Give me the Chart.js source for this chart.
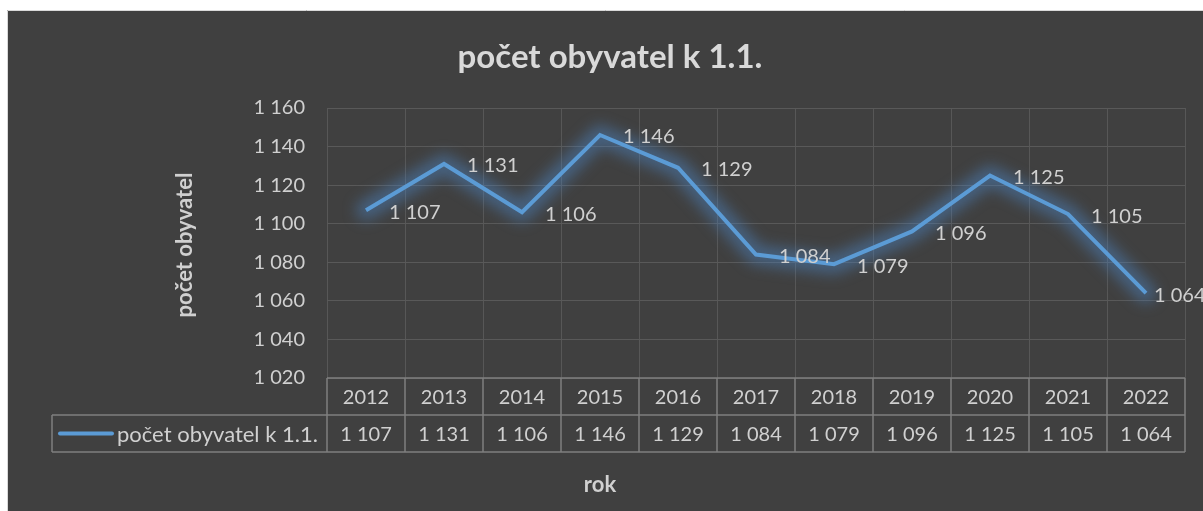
<!DOCTYPE html>
<html>
<head>
<meta charset="utf-8">
<script src="https://cdn.jsdelivr.net/npm/chart.js"></script>
<style>
  body { margin: 0; background: #ffffff; }
  #obal { width: 1203px; height: 511px; }
</style>
</head>
<body>
<div id="obal"><canvas id="graf" width="1203" height="511"></canvas></div>
<script>
const roky = ['2012', '2013', '2014', '2015', '2016', '2017', '2018', '2019', '2020', '2021', '2022'];
const obyvatele = [1107, 1131, 1106, 1146, 1129, 1084, 1079, 1096, 1125, 1105, 1064];
const yTicky = [1020, 1040, 1060, 1080, 1100, 1120, 1140, 1160];

const nazevGrafu = 'počet obyvatel k 1.1.';
const nazevRady = 'počet obyvatel k 1.1.';
const nazevOsyY = 'počet obyvatel';
const nazevOsyX = 'rok';

const barvaTextu = '#d0d0d0';
const barvaCary = '#5b9bd5';
const pismo = 'Lato, "Noto Sans", sans-serif';

// mezera jako oddelovac tisicu
const fmt = (v) => String(v).replace(/\B(?=(\d{3})+(?!\d))/g, ' ');

// pozadi a ramecek grafu
const pozadi = {
    id: 'pozadi',
    beforeDraw(chart) {
        const ctx = chart.ctx;
        ctx.save();
        ctx.fillStyle = '#ffffff';
        ctx.fillRect(0, 0, chart.width, chart.height);
        ctx.fillStyle = '#404040';
        ctx.fillRect(7, 10, chart.width, chart.height);
        ctx.strokeStyle = '#d9d9d9';
        ctx.lineWidth = 1;
        ctx.beginPath();
        ctx.moveTo(7.5, chart.height);
        ctx.lineTo(7.5, 10.5);
        ctx.lineTo(chart.width, 10.5);
        ctx.stroke();
        ctx.restore();
    }
};

// zare kolem cary - rozmazana siroka cara pod datasetem
const zare = {
    id: 'zare',
    beforeDatasetsDraw(chart) {
        const ctx = chart.ctx;
        const body = chart.getDatasetMeta(0).data;
        ctx.save();
        ctx.filter = 'blur(7px)';
        ctx.strokeStyle = 'rgba(75, 130, 190, 0.5)';
        ctx.lineWidth = 20;
        ctx.lineJoin = 'round';
        ctx.lineCap = 'round';
        ctx.beginPath();
        body.forEach((b, i) => i ? ctx.lineTo(b.x, b.y) : ctx.moveTo(b.x, b.y));
        ctx.stroke();
        ctx.restore();
    }
};

// titulky, popisky hodnot a tabulka dat
const popisky = {
    id: 'popisky',
    afterDraw(chart) {
        const ctx = chart.ctx;
        const sx = chart.scales.x;
        const sy = chart.scales.y;
        const area = chart.chartArea;
        ctx.save();

        // nadpis
        ctx.fillStyle = '#d9d9d9';
        ctx.font = 'bold 33px ' + pismo;
        ctx.textAlign = 'center';
        ctx.textBaseline = 'middle';
        ctx.fillText(nazevGrafu, 610, 57);
        ctx.fillStyle = barvaTextu;

        // nazev osy y
        ctx.save();
        ctx.translate(185, (area.top + area.bottom) / 2 + 2);
        ctx.rotate(-Math.PI / 2);
        ctx.font = 'bold 22px ' + pismo;
        ctx.fillText(nazevOsyY, 0, 0);
        ctx.restore();

        // nazev osy x
        ctx.font = 'bold 22px ' + pismo;
        ctx.fillText(nazevOsyX, 600, 485);

        // popisky hodnot vpravo od bodu (posledni je prisunuty, jako v Excelu)
        ctx.font = '20px ' + pismo;
        ctx.textAlign = 'left';
        obyvatele.forEach((v, i) => {
            const posun = i === obyvatele.length - 1 ? 8 : 23;
            ctx.fillText(fmt(v), sx.getPixelForValue(i) + posun, sy.getPixelForValue(v) + 2);
        });

        // tabulka dat
        const krok = sx.getPixelForValue(1) - sx.getPixelForValue(0);
        const levo = sx.getPixelForValue(0) - krok / 2;
        const pravo = sx.getPixelForValue(roky.length - 1) + krok / 2;
        const y0 = area.bottom;
        const y1 = y0 + 37;
        const y2 = y1 + 37;
        const legLevo = 52;

        ctx.strokeStyle = '#7f7f7f';
        ctx.lineWidth = 1.5;
        ctx.beginPath();
        ctx.moveTo(levo, y0); ctx.lineTo(pravo, y0);
        ctx.moveTo(legLevo, y1); ctx.lineTo(pravo, y1);
        ctx.moveTo(legLevo, y2); ctx.lineTo(pravo, y2);
        for (let i = 0; i <= roky.length; i++) {
            const x = levo + krok * i;
            ctx.moveTo(x, y0); ctx.lineTo(x, y2);
        }
        ctx.moveTo(legLevo, y1); ctx.lineTo(legLevo, y2);
        ctx.stroke();

        ctx.textAlign = 'center';
        roky.forEach((r, i) => {
            const x = sx.getPixelForValue(i);
            ctx.fillText(r, x, (y0 + y1) / 2 + 1);
            ctx.fillText(fmt(obyvatele[i]), x, (y1 + y2) / 2 + 1);
        });

        // legenda v tabulce
        ctx.strokeStyle = barvaCary;
        ctx.lineWidth = 4;
        ctx.lineCap = 'round';
        ctx.beginPath();
        ctx.moveTo(60, (y1 + y2) / 2);
        ctx.lineTo(112, (y1 + y2) / 2);
        ctx.stroke();
        ctx.textAlign = 'left';
        ctx.font = '22px ' + pismo;
        ctx.fillText(nazevRady, 117, (y1 + y2) / 2 + 1);

        ctx.restore();
    }
};

const ctxGraf = document.getElementById('graf').getContext('2d');
const graf = new Chart(ctxGraf, {
    type: 'line',
    data: {
        labels: roky,
        datasets: [{
            label: nazevRady,
            data: obyvatele,
            borderColor: barvaCary,
            borderWidth: 4,
            pointRadius: 0,
            tension: 0,
            clip: false
        }]
    },
    options: {
        responsive: false,
        devicePixelRatio: 1,
        animation: false,
        layout: {
            padding: {left: 0, top: 108, right: 18, bottom: 133}
        },
        plugins: {
            legend: {display: false},
            title: {display: false},
            tooltip: {enabled: false}
        },
        scales: {
            x: {
                offset: true,
                ticks: {display: false},
                grid: {color: '#575757', lineWidth: 1, drawTicks: false, offset: true},
                border: {display: false}
            },
            y: {
                min: 1020,
                max: 1160,
                afterBuildTicks: (s) => { s.ticks = yTicky.map(v => ({value: v})); },
                afterFit: (s) => { s.width = 327; },
                ticks: {
                    color: barvaTextu,
                    font: {family: pismo, size: 20},
                    padding: 22,
                    callback: (v) => fmt(v)
                },
                grid: {color: '#595959', lineWidth: 1, drawTicks: false},
                border: {display: false}
            }
        }
    },
    plugins: [pozadi, zare, popisky]
});
</script>
</body>
</html>
